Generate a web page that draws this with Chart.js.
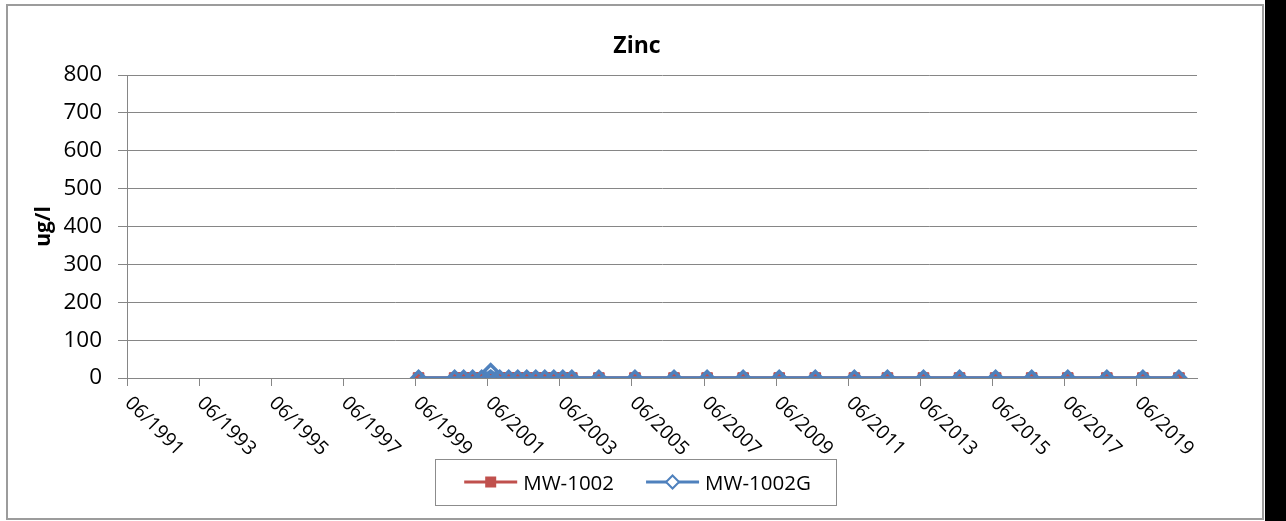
<!DOCTYPE html>
<html>
<head>
<meta charset="utf-8">
<script src="https://cdn.jsdelivr.net/npm/chart.js@4.4.1/dist/chart.umd.min.js"></script>
<style>
html,body{margin:0;padding:0;background:#000;}
#wrap{position:absolute;left:0;top:0;width:1265px;height:521px;background:#fff;}
canvas{display:block;}
</style>
</head>
<body>
<div id="wrap"><canvas id="c" width="1265" height="521"></canvas></div>
<script>
// ---- data ----
const chartTitle = 'Zinc';
const yAxisTitle = 'ug/l';
const seriesNames = ['MW-1002', 'MW-1002G'];
const tickLabels = ['06/1991','06/1993','06/1995','06/1997','06/1999','06/2001','06/2003','06/2005','06/2007','06/2009','06/2011','06/2013','06/2015','06/2017','06/2019'];
const yTickValues = [0, 100, 200, 300, 400, 500, 600, 700, 800];
const sampleDates = ['1999-07','2000-07','2000-10','2001-01','2001-04','2001-07','2001-10','2002-01','2002-04','2002-07','2002-10','2003-01','2003-04','2003-07','2003-10','2004-07','2005-07','2006-08','2007-07','2008-07','2009-07','2010-07','2011-08','2012-07','2013-07','2014-07','2015-07','2016-07','2017-07','2018-08','2019-08','2020-08'];
const mw1002  = [0,0,0,0,0,0,0,0,0,0,0,0,0,0,0,0,0,0,0,0,0,0,0,0,0,0,0,0,0,0,0,0];
const mw1002G = [0,0,0,0,0,18,0,0,0,0,0,0,0,0,0,0,0,0,0,0,0,0,0,0,0,0,0,0,0,0,0,0];
const xAxisEnd = '2021-02';

// ---- helpers ----
function dateToYear(s){ const p = s.split('-').map(Number); return p[0] + (p[1]-1)/12; }
function labelToYear(l){ const p = l.split('/').map(Number); return p[1] + (p[0]-1)/12; }
const tickValues = tickLabels.map(labelToYear);
const xs = sampleDates.map(dateToYear);
const toPoints = vals => vals.map((v,i) => ({x: xs[i], y: v}));

const FONT = '"Open Sans", "Noto Sans", sans-serif';
const RED = '#C0504D', BLUE = '#4F81BD', GRID = '#868686';

const decorPlugin = {
  id: 'decor',
  beforeDraw(chart){
    const ctx = chart.ctx;
    ctx.save();
    ctx.fillStyle = '#fff';
    ctx.fillRect(0,0,chart.width,chart.height);
    ctx.strokeStyle = '#9c9c9c';
    ctx.lineWidth = 2;
    ctx.strokeRect(7,5,1256,514);
    ctx.restore();
  },
  afterDraw(chart){
    const ctx = chart.ctx;
    const xsc = chart.scales.x;
    ctx.save();
    // title
    ctx.fillStyle = '#000';
    ctx.font = 'bold 23px ' + FONT;
    ctx.textAlign = 'center';
    ctx.textBaseline = 'alphabetic';
    ctx.fillText(chartTitle, 637, 53);
    // x tick labels, rotated 45deg clockwise
    ctx.font = '19.5px ' + FONT;
    ctx.textAlign = 'left';
    ctx.textBaseline = 'middle';
    tickLabels.forEach((lab,i) => {
      const px = xsc.getPixelForValue(tickValues[i]);
      ctx.save();
      ctx.translate(px + 1, xsc.top + 22);
      ctx.rotate(Math.PI/4);
      ctx.fillText(lab, 0, 0);
      ctx.restore();
    });
    // legend
    const ds = chart.data.datasets;
    ctx.font = '20.5px ' + FONT;
    const lineLen = 53, gap = 6, itemGap = 32;
    const widths = ds.map(d => lineLen + gap + ctx.measureText(d.label).width);
    const total = widths.reduce((a,b)=>a+b,0) + itemGap*(ds.length-1);
    const boxW = 401, boxH = 46, boxCx = 635.5, boxTop = 459;
    ctx.strokeStyle = '#8c8c8c';
    ctx.lineWidth = 1;
    ctx.strokeRect(Math.round(boxCx - boxW/2) + 0.5, boxTop + 0.5, boxW, boxH);
    const cy = boxTop + boxH/2;
    let x = boxCx - total/2 + 2;
    ds.forEach((d,i) => {
      ctx.strokeStyle = d.borderColor;
      ctx.lineWidth = 3;
      ctx.beginPath();
      ctx.moveTo(x, cy); ctx.lineTo(x + lineLen, cy);
      ctx.stroke();
      const mx = x + lineLen/2;
      if (d.pointStyle === 'rect') {
        ctx.fillStyle = d.borderColor;
        ctx.fillRect(mx - 5.5, cy - 5.5, 11, 11);
      } else {
        ctx.fillStyle = '#fff';
        ctx.lineWidth = 2;
        ctx.beginPath();
        ctx.moveTo(mx, cy - 6.5); ctx.lineTo(mx + 6.5, cy); ctx.lineTo(mx, cy + 6.5); ctx.lineTo(mx - 6.5, cy);
        ctx.closePath();
        ctx.fill(); ctx.stroke();
      }
      ctx.fillStyle = '#000';
      ctx.textAlign = 'left';
      ctx.textBaseline = 'alphabetic';
      ctx.fillText(d.label, x + lineLen + gap, cy + 7.5);
      x += widths[i] + itemGap;
    });
    ctx.restore();
  }
};

new Chart(document.getElementById('c'), {
  type: 'line',
  data: {
    datasets: [
      {
        label: seriesNames[0],
        data: toPoints(mw1002),
        borderColor: RED,
        backgroundColor: RED,
        borderWidth: 3.5,
        pointStyle: 'rect',
        pointRadius: 7.5,
        pointBackgroundColor: RED,
        pointBorderColor: RED,
        pointBorderWidth: 1,
        tension: 0,
        order: 1
      },
      {
        label: seriesNames[1],
        data: toPoints(mw1002G),
        borderColor: BLUE,
        backgroundColor: BLUE,
        borderWidth: 3.5,
        pointStyle: 'rectRot',
        pointRadius: 6.5,
        pointBackgroundColor: 'rgba(255,255,255,0)',
        pointBorderColor: BLUE,
        pointBorderWidth: 3.5,
        tension: 0,
        order: 0
      }
    ]
  },
  options: {
    responsive: false,
    animation: false,
    devicePixelRatio: 1,
    layout: { padding: { left: 0, right: 68, top: 75, bottom: 0 } },
    plugins: { legend: { display: false }, title: { display: false }, tooltip: { enabled: false } },
    scales: {
      x: {
        type: 'linear',
        min: tickValues[0],
        max: dateToYear(xAxisEnd),
        afterBuildTicks: a => { a.ticks = tickValues.map(v => ({ value: v })); },
        afterFit: a => { a.height = 143; },
        ticks: { display: false },
        grid: { drawOnChartArea: false, drawTicks: true, tickLength: 8, color: GRID, lineWidth: 1 },
        border: { color: GRID, width: 1 }
      },
      y: {
        min: 0,
        max: 800,
        afterBuildTicks: a => { a.ticks = yTickValues.map(v => ({ value: v })); },
        afterFit: a => { a.width = 127; },
        ticks: { font: { family: FONT, size: 22.5 }, color: '#000', padding: 16 },
        grid: { color: GRID, lineWidth: 1, tickLength: 9 },
        border: { color: GRID, width: 1 },
        title: { display: true, text: yAxisTitle, color: '#000', font: { family: FONT, size: 21, weight: 'bold' }, padding: { top: 31, bottom: 0 } }
      }
    }
  },
  plugins: [decorPlugin]
});
</script>
</body>
</html>
